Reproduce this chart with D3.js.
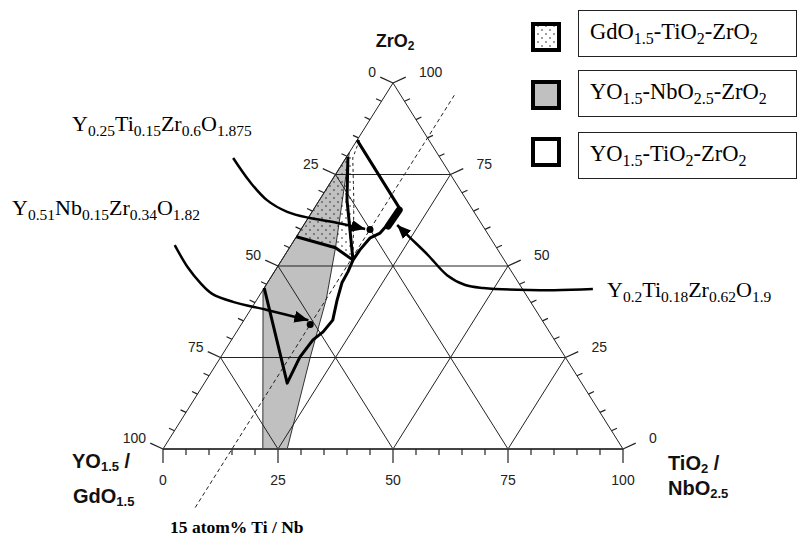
<!DOCTYPE html>
<html>
<head>
<meta charset="utf-8">
<script src="https://cdn.jsdelivr.net/npm/d3@7/dist/d3.min.js"></script>
<style>
  body { margin: 0; background: #fff; }
  svg { display: block; }
</style>
</head>
<body>
<div class="chart"></div>
<script>
// all compositions are [TiO2 or NbO2.5 %, ZrO2 %]; YO1.5 / GdO1.5 is what is left
const axisLabels = [0, 25, 50, 75, 100];
const tickSteps = d3.range(0, 101, 5);
const gridLevels = [25, 50, 75];

// YO1.5-NbO2.5-ZrO2 field (grey)
const nbRegion = [[0, 81], [5, 68], [10, 55], [15, 41], [19.5, 25], [27, 0], [21.7, 0], [0, 43.5]];
// GdO1.5-TiO2-ZrO2 field (dotted)
const gdRegion = [[0, 82], [0, 58], [10, 55], [15.5, 51.6], [8, 67], [1.5, 79.5]];
const gdDashed = [[0.5, 84.4], [1.5, 79.5], [8, 67], [15.5, 51.6]];
const gdThickA = [[0.3, 79.8], [6, 68], [15.5, 51.6]];
const gdThickB = [[0, 58], [10, 55], [15.5, 51.6]];
// YO1.5-TiO2-ZrO2 field (white, thick outline)
const tiBoundary = [[0, 44], [18, 18], [17.2, 25.1], [17.7, 29.8], [18.8, 32], [19.3, 35.2],
  [17.5, 40.7], [16.2, 45.4], [16, 48.4], [15.5, 51.6], [15.6, 54.4], [16.2, 57.7],
  [17.7, 59], [18.3, 62], [18.7, 65.6], [0, 84.4]];

// 15 atom% Ti / Nb guide
const guideTi = 15;
const guideZr = [-16, 97];

// marked compositions
const pointNames = ["Y_{0.25}Ti_{0.15}Zr_{0.6}O_{1.875}", "Y_{0.51}Nb_{0.15}Zr_{0.34}O_{1.82}", "Y_{0.2}Ti_{0.18}Zr_{0.62}O_{1.9}"];
const pointTi = [15, 15, 18];
const pointZr = [60, 34, 62];
const blobSegment = [[18.7, 65.3], [18.5, 60.9]];

// leader arrows from the labels
const arrow1 = [[-24.5, 79.5], [-17.6, 73], [-11.4, 68], [-5.4, 64.8], [0.4, 63.1], [6, 62], [13.9, 60.1]];
const arrow2 = [[-25.3, 55.7], [-19.3, 49.5], [-14.6, 45.4], [-10.5, 42.4], [-4.9, 40.2], [3.6, 38], [14, 35.2]];
const arrow3 = [[71.6, 43.7], [63.1, 43.4], [47.6, 44], [43.3, 44.8], [38, 47.5], [31.1, 53], [24.9, 57.7], [20.3, 61.2]];

const legendNames = ["GdO_{1.5}-TiO_{2}-ZrO_{2}", "YO_{1.5}-NbO_{2.5}-ZrO_{2}", "YO_{1.5}-TiO_{2}-ZrO_{2}"];
const legendFills = ["url(#dots)", "#c0c0c0", "#fff"];

const width = 798, height = 539;
const serif = "'Liberation Serif', 'Times New Roman', serif";
const sans = "'Liberation Sans', Arial, sans-serif";

const x = d3.scaleLinear().domain([0, 100]).range([163, 623]);
const y = d3.scaleLinear().domain([0, 100]).range([449, 83]);
const proj = d => [x(d[0] + d[1] / 2), y(d[1])];
const line = d3.line().x(d => proj(d)[0]).y(d => proj(d)[1]);
const smooth = d3.line().x(d => proj(d)[0]).y(d => proj(d)[1]).curve(d3.curveCatmullRom);

// text with _{...} subscripts
function rich(sel, str, size, subSize, shift) {
    const parts = str.split(/(_\{[^}]*\})/).filter(s => s);
    let off = 0;
    parts.forEach(p => {
        const sub = p.startsWith("_{");
        const t = sel.append("tspan").text(sub ? p.slice(2, -1) : p)
            .attr("font-size", sub ? subSize : size);
        const target = sub ? shift : 0;
        if (target !== off) t.attr("dy", target - off);
        off = target;
    });
    return sel;
}

const svg = d3.select(".chart").append("svg")
    .attr("width", width)
    .attr("height", height)
    .attr("viewBox", [0, 0, width, height]);

const defs = svg.append("defs");
const pat = defs.append("pattern")
    .attr("id", "dots")
    .attr("patternUnits", "userSpaceOnUse")
    .attr("width", 8).attr("height", 8);
pat.append("circle").attr("cx", 2).attr("cy", 2).attr("r", 0.8).attr("fill", "#222");
pat.append("circle").attr("cx", 6).attr("cy", 6).attr("r", 0.8).attr("fill", "#222");

defs.append("marker")
    .attr("id", "head")
    .attr("viewBox", "0 0 14 12")
    .attr("refX", 14).attr("refY", 6)
    .attr("markerWidth", 14).attr("markerHeight", 12)
    .attr("markerUnits", "userSpaceOnUse")
    .attr("orient", "auto")
    .append("path").attr("d", "M0,0L14,6L0,12Z").attr("fill", "#000");

// fields
svg.append("path").attr("d", line(nbRegion) + "Z")
    .attr("fill", "#c0c0c0").attr("stroke", "#333").attr("stroke-width", 1);
svg.append("path").attr("d", line(gdRegion) + "Z")
    .attr("fill", "url(#dots)").attr("stroke", "none");

// grid
const grid = svg.append("g").attr("stroke", "#222").attr("stroke-width", 1).attr("fill", "none");
gridLevels.forEach(g => {
    grid.append("path").attr("d", line([[0, g], [100 - g, g]]));
    grid.append("path").attr("d", line([[g, 0], [g, 100 - g]]));
    grid.append("path").attr("d", line([[0, 100 - g], [100 - g, 0]]));
});

// triangle edges
svg.append("path").attr("d", line([[0, 0], [0, 100], [100, 0]]))
    .attr("fill", "none").attr("stroke", "#222").attr("stroke-width", 1);
svg.append("path").attr("d", line([[0, 0], [100, 0]]))
    .attr("fill", "none").attr("stroke", "#444").attr("stroke-width", 2);

// ticks
const ticks = svg.append("g").attr("stroke", "#222").attr("stroke-width", 1.2);
const lab = svg.append("g").attr("font-family", sans).attr("font-size", 14).attr("fill", "#222");
const lx = -0.91, ly = -0.42;
tickSteps.forEach(v => {
    const len = v % 25 === 0 ? 14 : 6;
    const [bx, by] = proj([v, 0]);
    ticks.append("line").attr("x1", bx).attr("y1", by).attr("x2", bx).attr("y2", by + len);
    const [px, py] = proj([0, v]);
    ticks.append("line").attr("x1", px).attr("y1", py).attr("x2", px + lx * len).attr("y2", py + ly * len);
    const [rx, ry] = proj([100 - v, v]);
    ticks.append("line").attr("x1", rx).attr("y1", ry).attr("x2", rx - lx * len).attr("y2", ry + ly * len);
});
axisLabels.forEach(v => {
    const [bx, by] = proj([v, 0]);
    lab.append("text").attr("x", bx).attr("y", by + 36).attr("text-anchor", "middle").text(v);
    const [px, py] = proj([0, v]);
    lab.append("text").attr("x", px - 17).attr("y", py - 6).attr("text-anchor", "end").text(100 - v);
    const [rx, ry] = proj([100 - v, v]);
    lab.append("text").attr("x", rx + 26).attr("y", ry - 6).attr("text-anchor", "start").text(v);
});

// 15 atom% guide
svg.append("path").attr("d", line(guideZr.map(z => [guideTi, z])))
    .attr("fill", "none").attr("stroke", "#222").attr("stroke-width", 1).attr("stroke-dasharray", "4,3");

// field outlines
svg.append("path").attr("d", line(gdDashed))
    .attr("fill", "none").attr("stroke", "#222").attr("stroke-width", 1).attr("stroke-dasharray", "3,3");
[gdThickA, gdThickB].forEach(p => svg.append("path").attr("d", line(p))
    .attr("fill", "none").attr("stroke", "#000").attr("stroke-width", 3).attr("stroke-linejoin", "round"));
svg.append("path").attr("d", line(tiBoundary))
    .attr("fill", "none").attr("stroke", "#000").attr("stroke-width", 3).attr("stroke-linejoin", "round");

// arrows and points
[arrow1, arrow2, arrow3].forEach(a => svg.append("path").attr("d", smooth(a))
    .attr("fill", "none").attr("stroke", "#000").attr("stroke-width", 2.5)
    .attr("marker-end", "url(#head)"));
svg.selectAll(".pt").data([0, 1]).join("circle")
    .attr("cx", i => proj([pointTi[i], pointZr[i]])[0])
    .attr("cy", i => proj([pointTi[i], pointZr[i]])[1])
    .attr("r", 3.5).attr("fill", "#000");
svg.append("path").attr("d", line(blobSegment))
    .attr("stroke", "#000").attr("stroke-width", 7).attr("stroke-linecap", "round");

// point labels
const pointPos = [[72, 131], [12, 215], [607, 297]];
pointNames.forEach((n, i) => {
    rich(svg.append("text").attr("x", pointPos[i][0]).attr("y", pointPos[i][1])
        .attr("font-family", serif).attr("fill", "#000"), n, 22, 15.5, 5);
});

// axis titles
const bold = svg.append("g").attr("font-family", sans).attr("font-weight", "bold").attr("fill", "#111");
rich(bold.append("text").attr("x", 395).attr("y", 47).attr("text-anchor", "middle"), "ZrO_{2}", 18, 12, 3);
rich(bold.append("text").attr("x", 72).attr("y", 468), "YO_{1.5} /", 20, 13, 3);
rich(bold.append("text").attr("x", 73).attr("y", 503), "GdO_{1.5}", 20, 13, 3);
rich(bold.append("text").attr("x", 668).attr("y", 470), "TiO_{2} /", 20, 13, 3);
rich(bold.append("text").attr("x", 668).attr("y", 495), "NbO_{2.5}", 20, 13, 3);
svg.append("text").attr("x", 170).attr("y", 533)
    .attr("font-family", serif).attr("font-weight", "bold").attr("font-size", 17.5)
    .text("15 atom% Ti / Nb");

// legend
const swatchTop = [24, 82, 139];
const boxTop = [10, 70, 132];
const legend = svg.append("g");
legendNames.forEach((n, i) => {
    legend.append("rect").attr("x", 533).attr("y", swatchTop[i]).attr("width", 26).attr("height", 26)
        .attr("fill", legendFills[i]).attr("stroke", "#000").attr("stroke-width", 4);
    legend.append("rect").attr("x", 578.5).attr("y", boxTop[i] + 0.5).attr("width", 218).attr("height", 46)
        .attr("fill", "#fff").attr("stroke", "#222").attr("stroke-width", 1);
    rich(legend.append("text").attr("x", 590).attr("y", boxTop[i] + 29)
        .attr("font-family", serif).attr("fill", "#000"), n, 22.5, 16, 5);
});
</script>
</body>
</html>
